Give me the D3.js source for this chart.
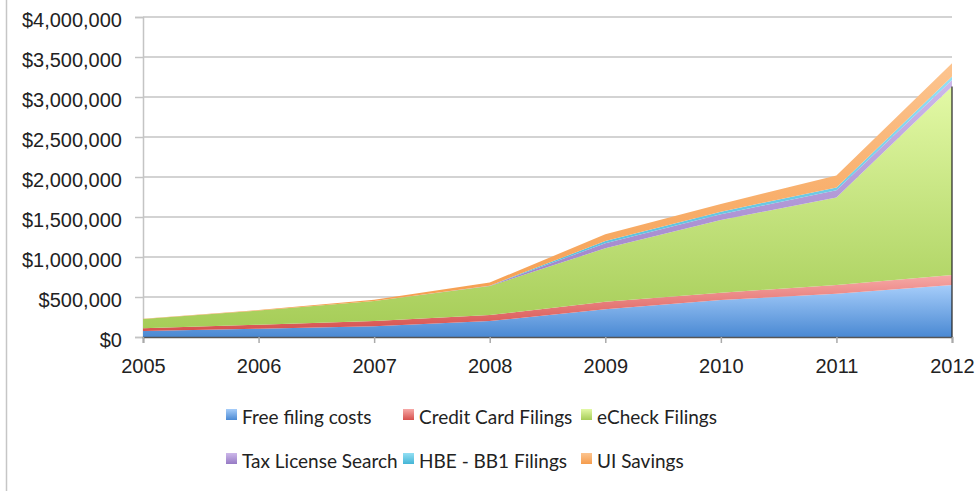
<!DOCTYPE html>
<html>
<head>
<meta charset="utf-8">
<script src="https://cdn.jsdelivr.net/npm/d3@7"></script>
<style>
  html, body { margin: 0; padding: 0; background: #fff; }
  svg { display: block; font-family: Lato, "Open Sans", sans-serif; }
</style>
</head>
<body>
<div id="chart"></div>
<script>
// data (dollars)
const years = [2005, 2006, 2007, 2008, 2009, 2010, 2011, 2012];
const seriesNames = ["Free filing costs", "Credit Card Filings", "eCheck Filings",
                     "Tax License Search", "HBE - BB1 Filings", "UI Savings"];
const freeFiling   = [75000, 104000, 133000, 200000, 346000, 462000, 540000, 650000];
const creditCard   = [33000, 50000, 67000, 75000, 95000, 92000, 110000, 125000];
const eCheck       = [117000, 176000, 250000, 362000, 668000, 908000, 1095000, 2355000];
const taxLicense   = [0, 0, 0, 3000, 62000, 72000, 90000, 82000];
const hbeFilings   = [0, 0, 0, 2000, 29000, 33000, 35000, 43000];
const uiSavings    = [3000, 6000, 16000, 38000, 84000, 95000, 150000, 166000];
const yTicks = [0, 500000, 1000000, 1500000, 2000000, 2500000, 3000000, 3500000, 4000000];

const seriesValues = [freeFiling, creditCard, eCheck, taxLicense, hbeFilings, uiSavings];
// gradient stops: light top, dark bottom
const colors = [
  ["#a6cdfa", "#4a89d3"],
  ["#f7a9a7", "#d6504d"],
  ["#e3f9a6", "#a6cd58"],
  ["#cdb8ea", "#967ac4"],
  ["#93dff3", "#44b5d6"],
  ["#fcc48f", "#f59c4c"]
];

const width = 979, height = 491;
const margin = {top: 17, right: 27, bottom: 154, left: 143};

const rows = years.map(function(yr, i){
  let r = {year: yr};
  seriesNames.forEach(function(n, k){ r[n] = seriesValues[k][i]; });
  return r;
});

const stacked = d3.stack().keys(seriesNames)(rows);

let svg = d3.select("#chart").append("svg")
  .attr("width", width)
  .attr("height", height);

let x = d3.scaleLinear()
  .domain([2005, 2012])
  .range([margin.left, width - margin.right]);

let y = d3.scaleLinear()
  .domain([0, 4000000])
  .range([height - margin.bottom, margin.top]);

// outer frame line on the left
svg.append("line")
  .attr("x1", 6.5).attr("x2", 6.5)
  .attr("y1", 0).attr("y2", height)
  .attr("stroke", "#c6c6c6")
  .attr("stroke-width", 1.5);

let defs = svg.append("defs");
colors.forEach(function(c, i){
  let g = defs.append("linearGradient")
    .attr("id", "grad" + i)
    .attr("x1", 0).attr("y1", 0)
    .attr("x2", 0).attr("y2", 1);
  g.append("stop").attr("offset", "0%").attr("stop-color", c[0]);
  g.append("stop").attr("offset", "100%").attr("stop-color", c[1]);
});

// gridlines + y axis
let yAxis = svg.append("g")
  .attr("transform", "translate(" + margin.left + ",0)")
  .call(d3.axisLeft(y)
    .tickValues(yTicks)
    .tickSize(8)
    .tickPadding(13)
    .tickFormat(function(d){ return "$" + d3.format(",")(d); }));
yAxis.select(".domain").attr("stroke", "#c4c4c4").attr("stroke-width", 1.5);
yAxis.selectAll(".tick line").attr("stroke", "#c4c4c4").attr("stroke-width", 1.5);
yAxis.selectAll(".tick text")
  .attr("fill", "#222")
  .attr("dy", "0.45em")
  .style("font-size", "20px");

svg.append("g")
  .attr("class", "grid")
  .selectAll("line")
  .data(yTicks.slice(1))
  .enter().append("line")
  .attr("x1", margin.left)
  .attr("x2", width - margin.right)
  .attr("y1", function(d){ return y(d); })
  .attr("y2", function(d){ return y(d); })
  .attr("stroke", "#c4c4c4")
  .attr("stroke-width", 1.5);

// stacked areas
let area = d3.area()
  .x(function(d){ return x(d.data.year); })
  .y0(function(d){ return y(d[0]); })
  .y1(function(d){ return y(d[1]); });

svg.append("g")
  .selectAll("path")
  .data(stacked)
  .enter().append("path")
  .attr("d", area)
  .attr("fill", function(d, i){ return "url(#grad" + i + ")"; });

// dark edge on the right side of the areas
let last = stacked[2][years.length - 1];
svg.append("line")
  .attr("x1", x(2012)).attr("x2", x(2012))
  .attr("y1", y(last[1])).attr("y2", y(0))
  .attr("stroke", "#222")
  .attr("stroke-width", 1.2);

// x axis
let xAxis = svg.append("g")
  .attr("transform", "translate(0," + y(0) + ")")
  .call(d3.axisBottom(x)
    .tickValues(years)
    .tickSize(6)
    .tickPadding(16)
    .tickFormat(d3.format("d")));
xAxis.select(".domain").attr("stroke", "#555").attr("stroke-width", 1.5);
xAxis.selectAll(".tick line").attr("stroke", "#aaa").attr("stroke-width", 1.5);
xAxis.selectAll(".tick text")
  .attr("fill", "#222")
  .style("font-size", "20px");

// legend
const legendCols = [226, 403, 581];
const legendRows = [409, 453];
let legend = svg.append("g")
  .selectAll("g")
  .data(seriesNames)
  .enter().append("g")
  .attr("transform", function(d, i){
    return "translate(" + legendCols[i % 3] + "," + legendRows[Math.floor(i / 3)] + ")";
  });

legend.append("rect")
  .attr("width", 11)
  .attr("height", 11)
  .attr("fill", function(d, i){ return "url(#grad" + i + ")"; });

legend.append("text")
  .attr("x", 16)
  .attr("y", 15)
  .attr("fill", "#222")
  .style("font-size", "19px")
  .text(function(d){ return d; });
</script>
</body>
</html>
